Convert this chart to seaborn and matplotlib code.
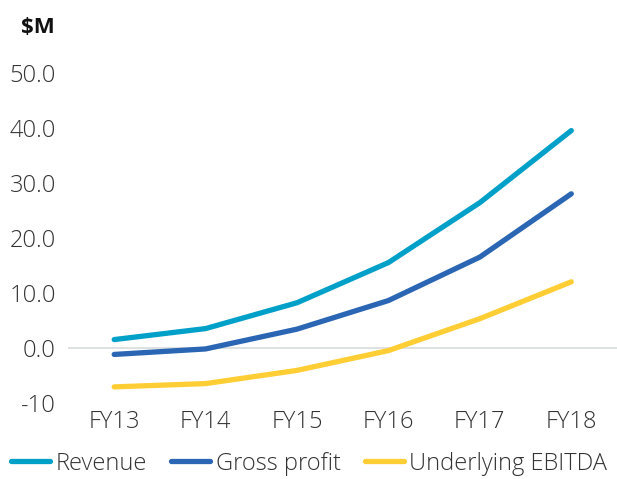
import numpy as np
import pandas as pd
import matplotlib
matplotlib.use("Agg")
import matplotlib.pyplot as plt
import seaborn as sns
from matplotlib.lines import Line2D

years = ["FY13", "FY14", "FY15", "FY16", "FY17", "FY18"]
revenue = [1.5, 3.5, 8.2, 15.5, 26.4, 39.5]
gross_profit = [-1.2, -0.2, 3.4, 8.6, 16.5, 28.0]
ebitda = [-7.1, -6.5, -4.1, -0.5, 5.3, 12.0]
series_names = ["Revenue", "Gross profit", "Underlying EBITDA"]
colors = ["#00A0C8", "#2A66B3", "#FFCD34"]
ytick_vals = [-10, 0, 10, 20, 30, 40, 50]
ytick_labels = ["-10", "0.0", "10.0", "20.0", "30.0", "40.0", "50.0"]

sns.set_theme(style="white")
plt.rcParams["font.family"] = ["Open Sans", "DejaVu Sans"]

df = pd.DataFrame({
    "year": years * 3,
    "value": revenue + gross_profit + ebitda,
    "series": [series_names[0]] * 6 + [series_names[1]] * 6 + [series_names[2]] * 6,
})
df["x"] = df["year"].map({y: i for i, y in enumerate(years)})

fig = plt.figure(figsize=(6.17, 4.79), dpi=100)
ax = fig.add_axes([0.111, 0.159, 0.889, 0.689])

sns.lineplot(data=df, x="x", y="value", hue="series", hue_order=series_names,
             palette=colors, linewidth=3.8, ax=ax, legend=False,
             solid_capstyle="round")

ax.axhline(0, color="#d8dcdc", linewidth=1.2, zorder=0)
ax.set_xlim(-0.5, 5.5)
ax.set_ylim(-10, 50)
ax.set_yticks(ytick_vals)
ax.set_yticklabels(ytick_labels)
ax.set_xticks(range(len(years)))
ax.set_xticklabels(years)
ax.tick_params(axis="both", length=0, labelsize=17, colors="#333333")
ax.tick_params(axis="y", pad=9)
ax.tick_params(axis="x", pad=5)
for lab in ax.get_xticklabels() + ax.get_yticklabels():
    lab.set_fontweight("light")
ax.set_xlabel("")
ax.set_ylabel("")
for s in ax.spines.values():
    s.set_visible(False)

fig.text(0.089, 0.943, "$M", ha="right", va="center", fontsize=16, fontweight="bold", color="#111111")

handles = [Line2D([0], [0], color=c, linewidth=3.8, solid_capstyle="round") for c in colors]
leg = fig.legend(handles, series_names, loc="center left", bbox_to_anchor=(0.018, 0.032),
                 ncol=3, frameon=False, fontsize=17, handlelength=1.65, handletextpad=0.22,
                 columnspacing=1.05, borderaxespad=0, borderpad=0)
for t in leg.get_texts():
    t.set_color("#333333")
    t.set_fontweight("light")

fig.savefig("out.png", dpi=100)
